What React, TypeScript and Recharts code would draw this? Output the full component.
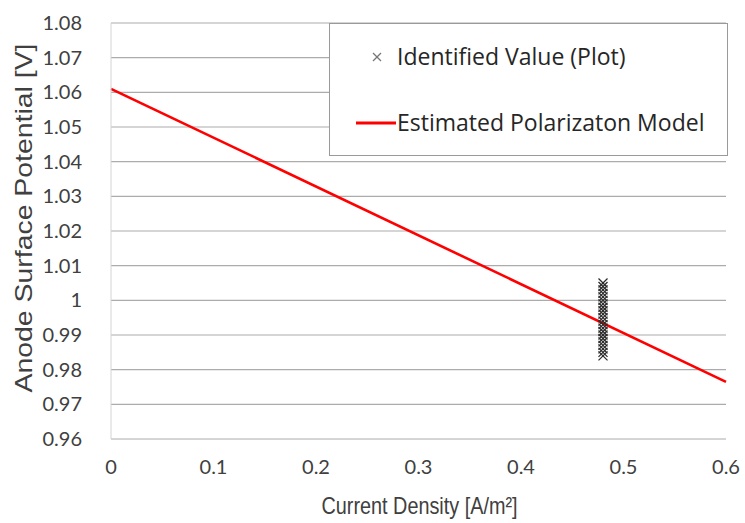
import React from 'react';
import {
  ComposedChart,
  Line,
  Scatter,
  XAxis,
  YAxis,
  CartesianGrid,
} from 'recharts';

const xTicks = [0, 0.1, 0.2, 0.3, 0.4, 0.5, 0.6];
const yTicks = [0.96, 0.97, 0.98, 0.99, 1, 1.01, 1.02, 1.03, 1.04, 1.05, 1.06, 1.07, 1.08];

// polarization model end points
const modelX = [0, 0.6];
const modelY = [1.061, 0.9765];

// identified values, all measured at one current density
const plotX = 0.48;
const plotY = [
  1.005, 1.004, 1.003, 1.002, 1.001, 1.0, 0.999, 0.998, 0.997, 0.996, 0.995,
  0.994, 0.993, 0.992, 0.991, 0.99, 0.989, 0.988, 0.987, 0.986, 0.985, 0.984,
];

const legendLabels = ['Identified Value (Plot)', 'Estimated Polarizaton Model'];

const lineData = modelX.map((x, i) => ({ x, y: modelY[i] }));
const scatterData = plotY.map((y) => ({ x: plotX, y }));

const tickFont = { fontFamily: 'Lato, "Open Sans", sans-serif', fontSize: 20, fill: '#404040' };

const XMark = (props: any) => {
  const { cx, cy } = props;
  const s = 4.5;
  return (
    <g stroke="#2a2a2a" strokeWidth={1.2}>
      <line x1={cx - s} y1={cy - s} x2={cx + s} y2={cy + s} />
      <line x1={cx - s} y1={cy + s} x2={cx + s} y2={cy - s} />
    </g>
  );
};

const LegendBox = () => (
  <div
    style={{
      position: 'absolute',
      left: 329,
      top: 23,
      width: 399,
      height: 133,
      background: '#fff',
      border: '1px solid #9a9a9a',
      boxSizing: 'border-box',
      fontFamily: '"Open Sans", Lato, sans-serif',
      fontSize: 23,
      color: '#262626',
    }}
  >
    <svg width={70} height={133} style={{ position: 'absolute', left: 0, top: 0 }}>
      <g stroke="#777" strokeWidth={1.2}>
        <line x1={43} y1={29} x2={51} y2={37} />
        <line x1={43} y1={37} x2={51} y2={29} />
      </g>
      <line x1={26} y1={99} x2={66} y2={99} stroke="#ff0000" strokeWidth={3} />
    </svg>
    <span style={{ position: 'absolute', left: 67, top: 17, whiteSpace: 'nowrap', lineHeight: '30px' }}>
      {legendLabels[0]}
    </span>
    <span style={{ position: 'absolute', left: 67, top: 83, whiteSpace: 'nowrap', lineHeight: '30px' }}>
      {legendLabels[1]}
    </span>
  </div>
);

const App: React.FC = () => {
  return (
    <div style={{ position: 'absolute', left: 0, top: 0, width: 745, height: 523, background: '#fff' }}>
      <ComposedChart
        width={745}
        height={523}
        margin={{ top: 23, right: 19, left: 0, bottom: 0 }}
      >
        <CartesianGrid vertical={false} stroke="#ababab" strokeWidth={1.2} />
        <XAxis
          type="number"
          dataKey="x"
          domain={[0, 0.6]}
          ticks={xTicks}
          tickFormatter={(v: number) => String(v)}
          height={84}
          tickLine={false}
          tickSize={0}
          tickMargin={21}
          axisLine={{ stroke: '#d4d4d4' }}
          tick={tickFont}
          label={(p: any) => {
            const vb = p.viewBox;
            return (
              <text
                x={vb.x + vb.width / 2 + 1}
                y={514}
                textAnchor="middle"
                fontFamily='"Liberation Sans", Arial, sans-serif'
                fontSize={24}
                fill="#404040"
                textLength={196}
                lengthAdjust="spacingAndGlyphs"
              >
                Current Density [A/m²]
              </text>
            );
          }}
        />
        <YAxis
          type="number"
          dataKey="y"
          domain={[0.96, 1.08]}
          ticks={yTicks}
          tickFormatter={(v: number) => String(v)}
          width={111}
          interval={0}
          tickLine={false}
          tickSize={0}
          tickMargin={29}
          axisLine={{ stroke: '#d4d4d4' }}
          tick={tickFont}
          label={() => (
            <text
              x={0}
              y={0}
              transform="translate(32, 218) rotate(-90)"
              textAnchor="middle"
              fontFamily='"Liberation Sans", Arial, sans-serif'
              fontSize={24}
              fill="#404040"
              textLength={349}
              lengthAdjust="spacingAndGlyphs"
            >
              Anode Surface Potential [V]
            </text>
          )}
        />
        <Line
          data={lineData}
          dataKey="y"
          type="linear"
          stroke="#ff0000"
          strokeWidth={2.6}
          dot={false}
          isAnimationActive={false}
        />
        <Scatter
          data={scatterData}
          dataKey="y"
          shape={<XMark />}
          isAnimationActive={false}
        />
      </ComposedChart>
      <LegendBox />
    </div>
  );
};

export default App;
